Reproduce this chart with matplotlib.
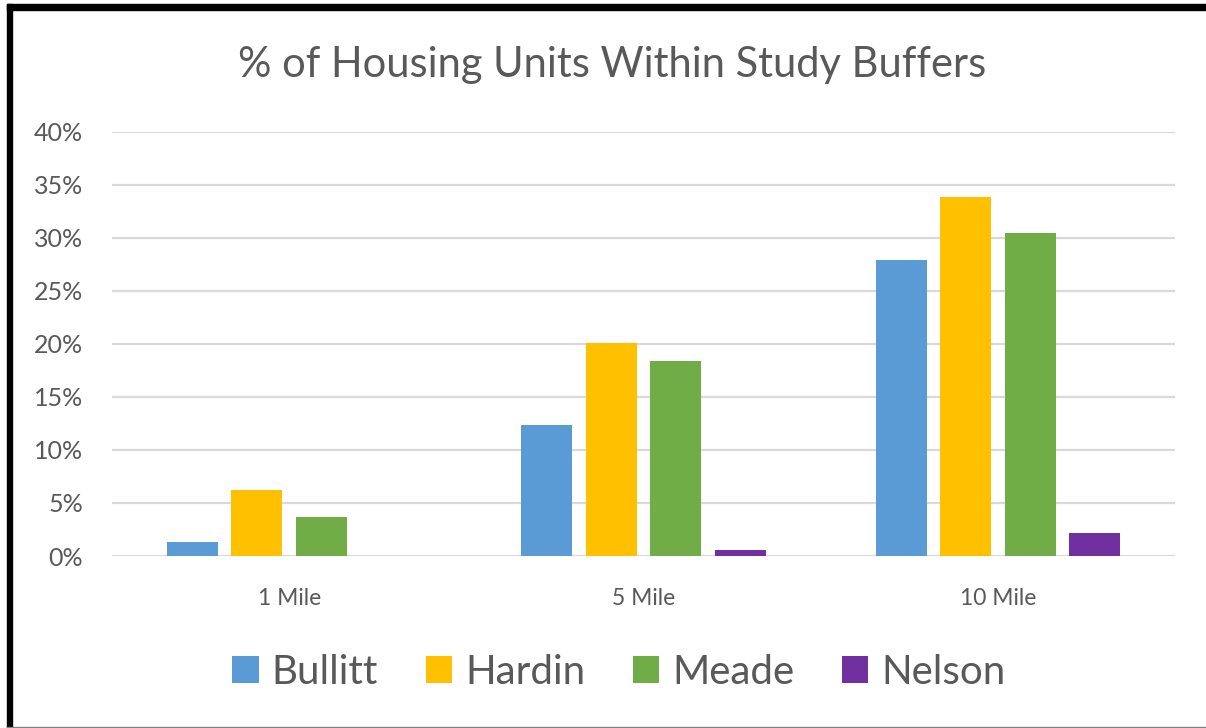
import matplotlib.pyplot as plt
import numpy as np
import matplotlib.ticker as ticker
from matplotlib.patches import Rectangle, Patch

plt.rcParams['font.family'] = ['Lato', 'DejaVu Sans']

buffers = ["1 Mile", "5 Mile", "10 Mile"]
counties = ["Bullitt", "Hardin", "Meade", "Nelson"]
bullitt = [0.013, 0.124, 0.279]
hardin = [0.062, 0.201, 0.339]
meade = [0.037, 0.184, 0.305]
nelson = [0.0, 0.006, 0.022]
colors = ["#5B9BD5", "#FFC000", "#70AD47", "#7030A0"]
yticks = [0, 0.05, 0.10, 0.15, 0.20, 0.25, 0.30, 0.35, 0.40]

text_color = "#595959"

fig = plt.figure(figsize=(12.06, 7.28), dpi=100)
ax = fig.add_axes([112/1206, 1-556/728, (1175-112)/1206, (556-132)/728])

x = np.arange(len(buffers))
pitch = 0.182
width = 0.144
for i, (vals, col) in enumerate(zip([bullitt, hardin, meade, nelson], colors)):
    ax.bar(x + (i-1.5)*pitch, vals, width=width, color=col, zorder=3)

ax.set_xlim(-0.5, 2.5)
ax.set_ylim(0, 0.40)
ax.set_yticks(yticks)
ax.yaxis.set_major_formatter(ticker.FuncFormatter(lambda v, p: '{:.0f}%'.format(v*100)))
ax.set_xticks(x)
ax.set_xticklabels(buffers)
ax.grid(axis="y", color="#d9d9d9", linewidth=1.6, zorder=0)
for s in ax.spines.values():
    s.set_visible(False)
ax.tick_params(axis="y", length=0, pad=21, labelsize=18, labelcolor=text_color)
ax.tick_params(axis="x", length=0, pad=23, labelsize=16.5, labelcolor=text_color)

fig.text(612/1206, 1-65/728, "% of Housing Units Within Study Buffers",
         ha="center", va="center", fontsize=30, color=text_color)

handles = [Patch(facecolor=c, label=n) for c, n in zip(colors, counties)]
fig.legend(handles=handles, loc="center", bbox_to_anchor=(619/1206, 1-672/728),
           ncol=4, frameon=False, fontsize=29, labelcolor=text_color,
           handlelength=0.65, handleheight=0.65, handletextpad=0.33,
           columnspacing=1.18)

# frame around the picture
fig.patches.append(Rectangle((7/1206, 0), 5/1206, 1-4/728, transform=fig.transFigure,
                             color="black", zorder=10))
fig.patches.append(Rectangle((7/1206, 1-10/728), 1-7/1206, 6/728, transform=fig.transFigure,
                             color="black", zorder=10))
fig.patches.append(Rectangle((7/1206, 0), 1-7/1206, 1.5/728, transform=fig.transFigure,
                             color="#808080", zorder=10))

plt.savefig("out.png", dpi=100)
